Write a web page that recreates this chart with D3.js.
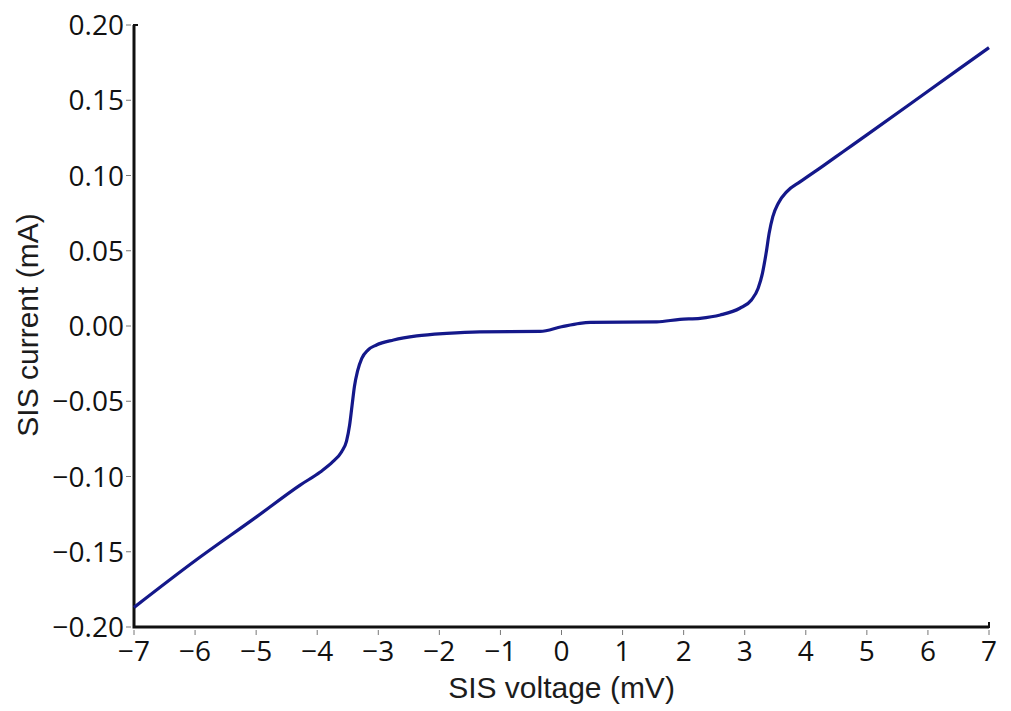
<!DOCTYPE html>
<html>
<head>
<meta charset="utf-8">
<script src="https://cdn.jsdelivr.net/npm/d3@7"></script>
<style>
  body { margin: 0; background: #ffffff; }
  svg { display: block; }
  .tick-label { font-family: "Open Sans", sans-serif; font-size: 28px; fill: #111; }
  .axis-title { font-family: "Liberation Sans", Arial, sans-serif; font-size: 30px; fill: #1c1c1c; }
</style>
</head>
<body>
<div id="chart"></div>
<script>
// SIS junction I-V curve
const voltage = [-7, -6, -5, -4.28, -3.95, -3.74, -3.6, -3.52, -3.47, -3.43, -3.39, -3.34, -3.27, -3.17, -3.03, -2.75, -2.37, -1.88, -1.34, -0.35, 0.0, 0.3, 0.47, 1.56, 1.94, 2.27, 2.60, 2.92, 3.11, 3.22, 3.29, 3.35, 3.40, 3.46, 3.55, 3.69, 3.91, 4.29, 4.61, 5, 6, 7];
const current = [-0.187, -0.156, -0.127, -0.1057, -0.097, -0.090, -0.0835, -0.0765, -0.066, -0.053, -0.040, -0.030, -0.0215, -0.0160, -0.0126, -0.0093, -0.0066, -0.0049, -0.0039, -0.0036, -0.0005, 0.0018, 0.0024, 0.0028, 0.0044, 0.0051, 0.0073, 0.0118, 0.0173, 0.0251, 0.035, 0.0483, 0.0616, 0.0727, 0.0816, 0.0893, 0.0959, 0.1066, 0.1158, 0.127, 0.156, 0.185];

const xTicks = [-7, -6, -5, -4, -3, -2, -1, 0, 1, 2, 3, 4, 5, 6, 7];
const yTicks = [-0.20, -0.15, -0.10, -0.05, 0.00, 0.05, 0.10, 0.15, 0.20];

const W = 1011, H = 711;
const margin = { top: 25, right: 22, bottom: 84, left: 134 };
const width = W - margin.left - margin.right;
const height = H - margin.top - margin.bottom;

const svg = d3.select('#chart').append('svg')
  .attr('width', W)
  .attr('height', H);

const g = svg.append('g')
  .attr('transform', `translate(${margin.left},${margin.top})`);

const x = d3.scaleLinear().domain([-7, 7]).range([0, width]);
const y = d3.scaleLinear().domain([-0.2, 0.2]).range([height, 0]);

const fmtY = d => (d < 0 ? '\u2212' : '') + Math.abs(d).toFixed(2);
const fmtX = d => (d < 0 ? '\u2212' : '') + Math.abs(d);

// y ticks + labels
yTicks.forEach(t => {
  g.append('line')
    .attr('x1', -8).attr('x2', -3)
    .attr('y1', y(t)).attr('y2', y(t))
    .attr('stroke', '#777').attr('stroke-width', 1);
  g.append('text')
    .attr('class', 'tick-label')
    .attr('x', -10).attr('y', y(t))
    .attr('dy', '0.36em')
    .attr('text-anchor', 'end')
    .text(fmtY(t));
});

// x ticks + labels
xTicks.forEach(t => {
  g.append('line')
    .attr('x1', x(t)).attr('x2', x(t))
    .attr('y1', height + 3).attr('y2', height + 8)
    .attr('stroke', '#777').attr('stroke-width', 1);
  g.append('text')
    .attr('class', 'tick-label')
    .attr('x', x(t)).attr('y', height + 34)
    .attr('text-anchor', 'middle')
    .text(fmtX(t));
});

// spines
g.append('path')
  .attr('d', `M0,0V${height}H${width}`)
  .attr('fill', 'none')
  .attr('stroke', '#111')
  .attr('stroke-width', 3);
// end caps
g.append('line').attr('x1', -1).attr('x2', 4).attr('y1', 0).attr('y2', 0)
  .attr('stroke', '#111').attr('stroke-width', 2);
g.append('line').attr('x1', width).attr('x2', width).attr('y1', height - 5).attr('y2', height + 1)
  .attr('stroke', '#111').attr('stroke-width', 2);

// curve
const pts = voltage.map((v, i) => [v, current[i]]);
const line = d3.line()
  .x(d => x(d[0]))
  .y(d => y(d[1]))
  .curve(d3.curveMonotoneX);

g.append('path')
  .datum(pts)
  .attr('d', line)
  .attr('fill', 'none')
  .attr('stroke', '#14188a')
  .attr('stroke-width', 3.2)
  .attr('stroke-linejoin', 'round');

// axis titles
svg.append('text')
  .attr('class', 'axis-title')
  .attr('x', margin.left + x(0))
  .attr('y', 698)
  .attr('text-anchor', 'middle')
  .text('SIS voltage (mV)');

svg.append('text')
  .attr('class', 'axis-title')
  .attr('transform', `translate(38,${margin.top + y(0) - 1}) rotate(-90)`)
  .attr('text-anchor', 'middle')
  .text('SIS current (mA)');
</script>
</body>
</html>
